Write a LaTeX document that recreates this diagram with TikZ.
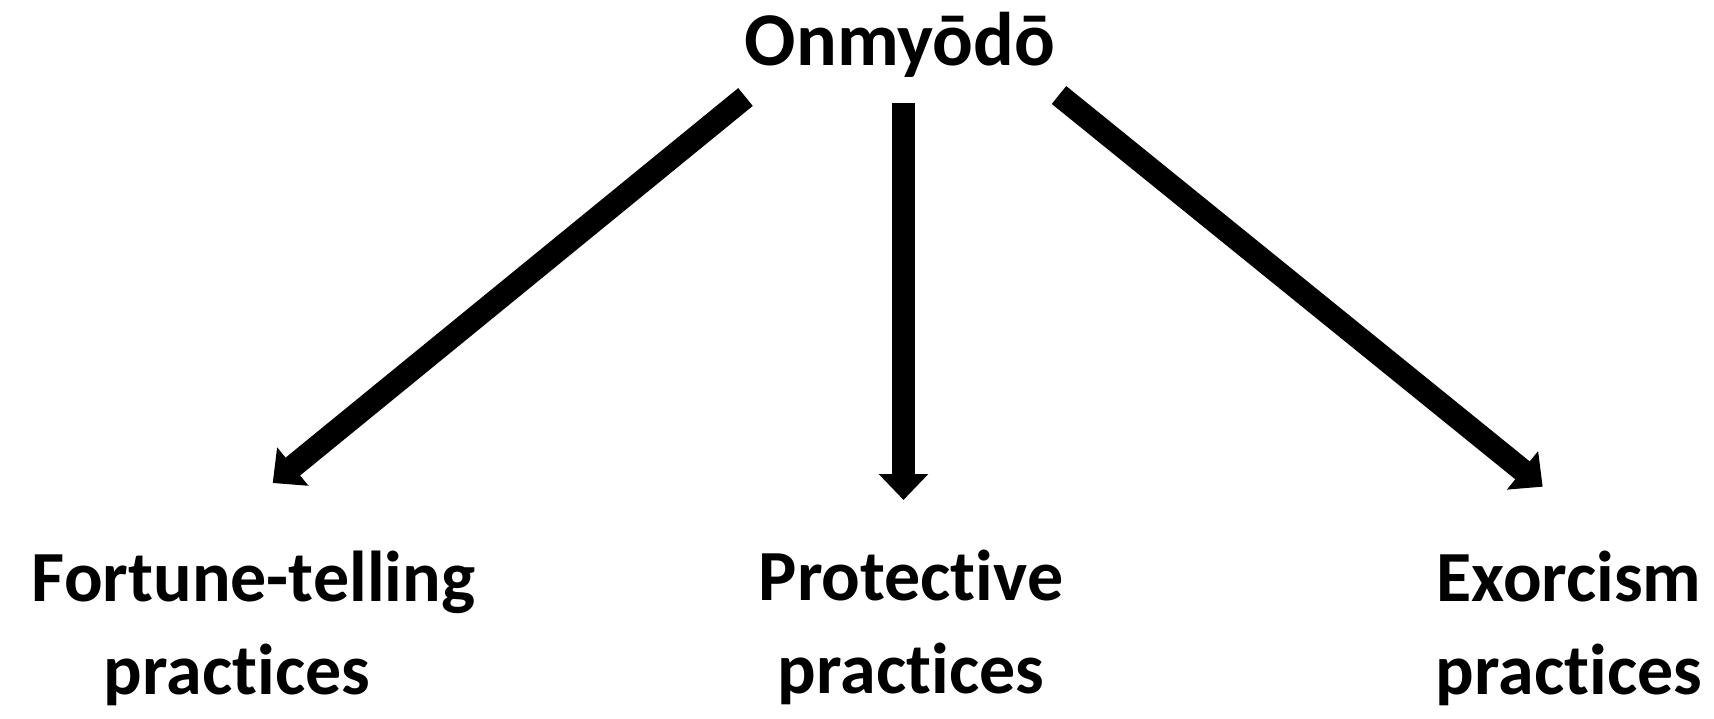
\documentclass[tikz,border=0pt]{standalone}
\usepackage{fontspec}
\setmainfont{Carlito}[Ligatures={NoCommon}]
\usetikzlibrary{arrows.meta}
\tikzset{
  every picture/.style={line join=miter, >=Stealth},
  title text/.style={font=\fontsize{38pt}{46pt}\selectfont\bfseries, anchor=base, inner sep=0pt},
  label text/.style={font=\fontsize{36pt}{46.5pt}\selectfont\bfseries, align=center, anchor=base, inner sep=0pt},
  big arrow/.style={line width=11.5pt, -{Triangle[width=24pt,length=13pt]}},
}

\begin{document}
\begin{tikzpicture}[x=0.5pt,y=-0.5pt]
\useasboundingbox (0,0) rectangle (1714,718);
\node[title text] (onmyodo) at (900,65) {Onmyōdō};
% base anchor sits on the second line
\node[label text] (fortune) at (253.5,694) {Fortune-telling\\practices\hspace*{16.5pt}};
\node[label text] (protective) at (911,693) {Protective\\practices};
\node[label text] (exorcism) at (1569,694) {Exorcism\\practices};
% arrow ends
\coordinate (lstart) at (745.5,97);
\coordinate (ltip) at (272.7,483);
\coordinate (mstart) at (903.5,103);
\coordinate (mtip) at (903.5,500);
\coordinate (rstart) at (1059,95);
\coordinate (rtip) at (1542.7,486.7);
\draw[big arrow] (lstart)--(ltip);
\draw[big arrow] (mstart)--(mtip);
\draw[big arrow] (rstart)--(rtip);
\end{tikzpicture}
\end{document}
